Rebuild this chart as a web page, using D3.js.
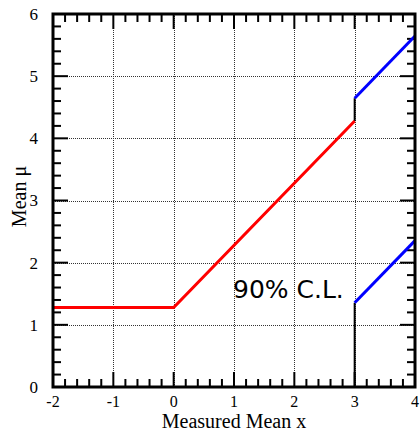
<!DOCTYPE html>
<html>
<head>
<meta charset="utf-8">
<script src="https://cdn.jsdelivr.net/npm/d3@7/dist/d3.min.js"></script>
<style>
  html, body { margin: 0; padding: 0; background: #fff; }
  svg { display: block; }
</style>
</head>
<body>
<svg id="chart" width="420" height="433"></svg>
<script>
// Confidence belt for a Gaussian mean near a physical boundary (90% C.L.)
const xTicks = [-2, -1, 0, 1, 2, 3, 4];
const yTicks = [0, 1, 2, 3, 4, 5, 6];

// Upper-limit branch (red)
const upperLimitX = [-2, 0, 3];
const upperLimitMu = [1.28, 1.28, 4.28];

// Central-interval branches (blue)
const centralX = [3, 4];
const centralUpperMu = [4.645, 5.645];
const centralLowerMu = [1.355, 2.355];

// Vertical jumps at x = 3 (black)
const jumpX = [3, 3];
const jumpLowMu = [0, 1.355];
const jumpHighMu = [4.28, 4.645];

const svg = d3.select("#chart");
const plotL = 53, plotR = 415, plotT = 14, plotB = 387;

const x = d3.scaleLinear().domain([-2, 4]).range([plotL, plotR]);
const y = d3.scaleLinear().domain([0, 6]).range([plotB, plotT]);

// Dotted grid at major ticks
const grid = svg.append("g").attr("stroke", "#333").attr("stroke-width", 1)
  .attr("stroke-dasharray", "1,1").attr("shape-rendering", "crispEdges");
xTicks.slice(1, -1).forEach(t => {
  grid.append("line").attr("x1", Math.round(x(t)) + 0.5).attr("x2", Math.round(x(t)) + 0.5)
    .attr("y1", plotT).attr("y2", plotB);
});
yTicks.slice(1, -1).forEach(t => {
  grid.append("line").attr("y1", Math.round(y(t)) + 0.5).attr("y2", Math.round(y(t)) + 0.5)
    .attr("x1", plotL).attr("x2", plotR);
});

// Inward ticks on all four sides: majors every 1, minors every 0.2
const minorX = d3.range(-2, 4.0001, 0.2);
const minorY = d3.range(0, 6.0001, 0.2);
const ticks = svg.append("g").attr("stroke", "#000").attr("stroke-width", 2);
const majLen = 15, minLen = 8;
const isMajor = v => Math.abs(v - Math.round(v)) < 1e-6;
minorX.forEach(v => {
  const L = isMajor(v) ? majLen : minLen;
  const px = x(v);
  ticks.append("line").attr("x1", px).attr("x2", px).attr("y1", plotB).attr("y2", plotB - L);
  ticks.append("line").attr("x1", px).attr("x2", px).attr("y1", plotT).attr("y2", plotT + L);
});
minorY.forEach(v => {
  const L = isMajor(v) ? majLen : minLen;
  const py = y(v);
  ticks.append("line").attr("y1", py).attr("y2", py).attr("x1", plotL).attr("x2", plotL + L);
  ticks.append("line").attr("y1", py).attr("y2", py).attr("x1", plotR).attr("x2", plotR - L);
});

// Curves
const line = d3.line().x(d => x(d[0])).y(d => y(d[1]));
const pairs = (xs, ys) => xs.map((v, i) => [v, ys[i]]);

svg.append("path").datum(pairs(jumpX, jumpLowMu)).attr("d", line)
  .attr("fill", "none").attr("stroke", "#000").attr("stroke-width", 2);
svg.append("path").datum(pairs(jumpX, jumpHighMu)).attr("d", line)
  .attr("fill", "none").attr("stroke", "#000").attr("stroke-width", 2);
svg.append("path").datum(pairs(upperLimitX, upperLimitMu)).attr("d", line)
  .attr("fill", "none").attr("stroke", "#ff0000").attr("stroke-width", 3);
svg.append("path").datum(pairs(centralX, centralUpperMu)).attr("d", line)
  .attr("fill", "none").attr("stroke", "#0000ff").attr("stroke-width", 3);
svg.append("path").datum(pairs(centralX, centralLowerMu)).attr("d", line)
  .attr("fill", "none").attr("stroke", "#0000ff").attr("stroke-width", 3);

// Frame
svg.append("rect").attr("x", plotL).attr("y", plotT)
  .attr("width", plotR - plotL).attr("height", plotB - plotT)
  .attr("fill", "none").attr("stroke", "#000").attr("stroke-width", 3);

// Tick labels
const serif = "'Liberation Serif', 'Times New Roman', serif";
svg.append("g").selectAll("text").data(xTicks).join("text")
  .attr("x", d => x(d)).attr("y", 406.5)
  .attr("text-anchor", "middle").attr("font-family", serif).attr("font-size", 16)
  .text(d => d);
svg.append("g").selectAll("text").data(yTicks).join("text")
  .attr("x", 38).attr("y", d => y(d)).attr("dy", "0.35em")
  .attr("text-anchor", "end").attr("font-family", serif).attr("font-size", 17)
  .text(d => d);

// Axis titles
svg.append("text").attr("x", (plotL + plotR) / 2).attr("y", 428)
  .attr("text-anchor", "middle").attr("font-family", serif).attr("font-size", 20)
  .text("Measured Mean x");
svg.append("text").attr("transform", `translate(26,${(plotT + plotB) / 2 - 4}) rotate(-90)`)
  .attr("text-anchor", "middle").attr("font-family", serif).attr("font-size", 20)
  .text("Mean μ");

// Annotation
svg.append("text").attr("x", 233).attr("y", 298)
  .attr("font-family", "'DejaVu Sans', sans-serif").attr("font-size", 25)
  .text("90% C.L.");
</script>
</body>
</html>
